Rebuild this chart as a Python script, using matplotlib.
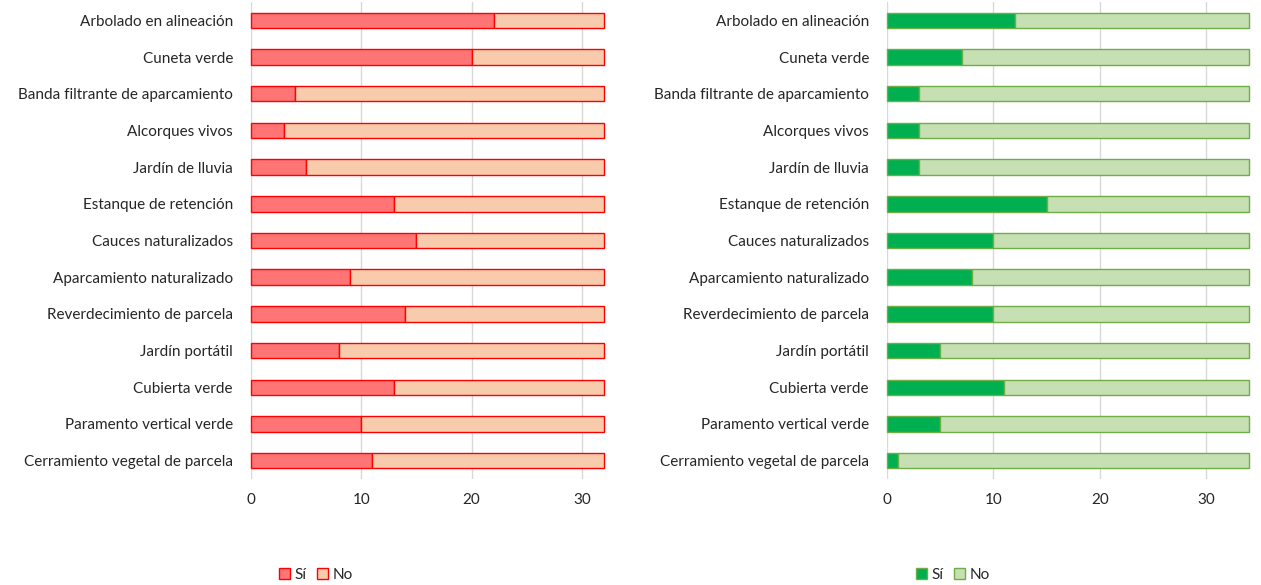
import numpy as np
import matplotlib.pyplot as plt
from matplotlib.patches import Patch

plt.rcParams['font.family'] = ['Lato', 'DejaVu Sans']

categories = ['Arbolado en alineación', 'Cuneta verde', 'Banda filtrante de aparcamiento',
              'Alcorques vivos', 'Jardín de lluvia', 'Estanque de retención',
              'Cauces naturalizados', 'Aparcamiento naturalizado', 'Reverdecimiento de parcela',
              'Jardín portátil', 'Cubierta verde', 'Paramento vertical verde',
              'Cerramiento vegetal de parcela']

# left chart (total 32 answers)
si_left = [22, 20, 4, 3, 5, 13, 15, 9, 14, 8, 13, 10, 11]
total_left = 32
no_left = [total_left - v for v in si_left]

# right chart (total 34 answers)
si_right = [12, 7, 3, 3, 3, 15, 10, 8, 10, 5, 11, 5, 1]
total_right = 34
no_right = [total_right - v for v in si_right]

xticks = [0, 10, 20, 30]
text_col = '#262626'

fig = plt.figure(figsize=(12.61, 5.85), dpi=100)
W, H = 1261, 585


def draw(ax, si, no, total, c_si, c_no, edge):
    y = np.arange(len(categories))
    b1 = ax.barh(y, si, height=0.42, color=c_si, edgecolor=edge, linewidth=1.0, zorder=3)
    b2 = ax.barh(y, no, left=si, height=0.42, color=c_no, edgecolor=edge, linewidth=1.0, zorder=3)
    for p in list(b1) + list(b2):
        p.set_clip_on(False)
    ax.set_ylim(len(categories) - 0.5, -0.5)
    ax.set_xlim(0, total)
    ax.set_yticks(y)
    ax.set_yticklabels(categories, fontsize=11, color=text_col)
    ax.set_xticks(xticks)
    ax.set_xticklabels([str(t) for t in xticks], fontsize=11, color=text_col)
    ax.tick_params(axis='y', length=0, pad=13)
    ax.tick_params(axis='x', length=0, pad=10)
    for s in ax.spines.values():
        s.set_visible(False)
    ax.grid(axis='x', color='#d9d9d9', linewidth=1.0, zorder=0)


ax1 = fig.add_axes([251 / W, (585 - 479) / H, (604 - 251) / W, 477 / H])
draw(ax1, si_left, no_left, total_left, '#ff7575', '#f8cbad', '#ff0000')

ax2 = fig.add_axes([887 / W, (585 - 479) / H, (1249 - 887) / W, 477 / H])
draw(ax2, si_right, no_right, total_right, '#00b050', '#c6e0b4', '#70ad47')

h1 = [Patch(facecolor='#ff7575', edgecolor='#ff0000', label='Sí'),
      Patch(facecolor='#f8cbad', edgecolor='#ff0000', label='No')]
fig.legend(handles=h1, loc='center', bbox_to_anchor=(316 / W, 1 - 575 / H), ncol=2,
           frameon=False, fontsize=11, handlelength=0.7, handleheight=0.7,
           handletextpad=0.3, columnspacing=0.7, labelcolor=text_col)

h2 = [Patch(facecolor='#00b050', edgecolor='#70ad47', label='Sí'),
      Patch(facecolor='#c6e0b4', edgecolor='#70ad47', label='No')]
fig.legend(handles=h2, loc='center', bbox_to_anchor=(953 / W, 1 - 575 / H), ncol=2,
           frameon=False, fontsize=11, handlelength=0.7, handleheight=0.7,
           handletextpad=0.3, columnspacing=0.7, labelcolor=text_col)

fig.savefig('out.png', dpi=100)
